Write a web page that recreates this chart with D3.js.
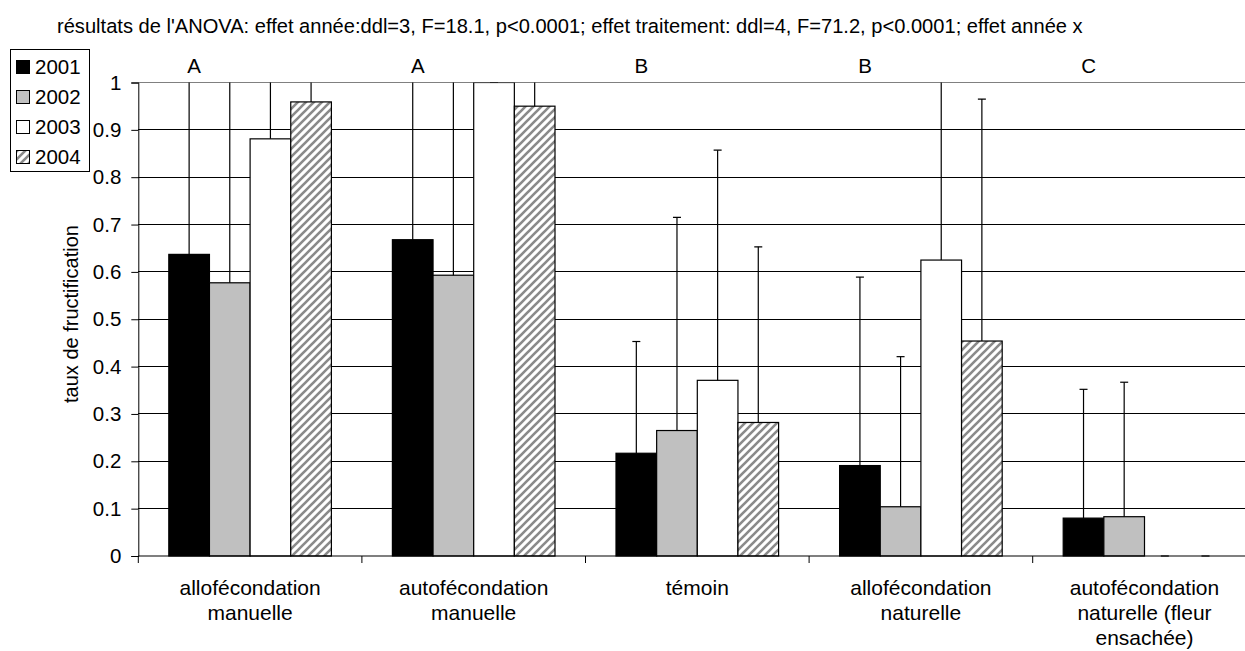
<!DOCTYPE html>
<html><head><meta charset="utf-8">
<script src="https://cdn.jsdelivr.net/npm/d3@7"></script>
<style>
html,body{margin:0;padding:0;background:#fff;overflow:hidden}
text{font-family:"Liberation Sans",Arial,sans-serif;fill:#000}
</style></head>
<body>
<svg id="chart" width="1245" height="651"></svg>
<script>
const titleText = "résultats de l'ANOVA: effet année:ddl=3, F=18.1, p<0.0001; effet traitement: ddl=4, F=71.2, p<0.0001; effet année x";
const yAxisTitle = "taux de fructification";
const categories = ["allofécondation manuelle","autofécondation manuelle","témoin","allofécondation naturelle","autofécondation naturelle (fleur ensachée)"];
const categoryLabelLines = [["allofécondation","manuelle"],["autofécondation","manuelle"],["témoin"],["allofécondation","naturelle"],["autofécondation","naturelle (fleur","ensachée)"]];
const groupLetters = ["A","A","B","B","C"];
const years = ["2001","2002","2003","2004"];
const values2001 = [0.637, 0.668, 0.217, 0.191, 0.080];
const values2002 = [0.577, 0.593, 0.265, 0.104, 0.083];
const values2003 = [0.881, 1.000, 0.371, 0.625, 0.000];
const values2004 = [0.959, 0.950, 0.282, 0.454, 0.000];
const errors2001 = [0.60, 0.60, 0.236, 0.398, 0.272];
const errors2002 = [0.60, 0.60, 0.450, 0.317, 0.284];
const errors2003 = [0.40, 0.00, 0.486, 0.500, 0.000];
const errors2004 = [0.30, 0.30, 0.371, 0.511, 0.000];
const yTicks = [0,0.1,0.2,0.3,0.4,0.5,0.6,0.7,0.8,0.9,1];

const seriesValues = [values2001, values2002, values2003, values2004];
const seriesErrors = [errors2001, errors2002, errors2003, errors2004];

(function(){
const svg = d3.select("#chart");
const pLeft = 138.3, pTop = 82.5, pBottom = 556, catW = 223.6;
const pRight = pLeft + catW * categories.length;

const defs = svg.append("defs");
const pat = defs.append("pattern").attr("id","hatch").attr("patternUnits","userSpaceOnUse")
  .attr("width",8).attr("height",8);
pat.append("rect").attr("width",8).attr("height",8).attr("fill","#fff");
pat.append("path").attr("d","M-2,2 L2,-2 M0,8 L8,0 M6,10 L10,6")
  .attr("stroke","#8a8a8a").attr("stroke-width",2.6);
defs.append("clipPath").attr("id","clip").append("rect")
  .attr("x",pLeft-10).attr("y",pTop).attr("width",pRight-pLeft+20).attr("height",pBottom-pTop+10);

const fills = ["#000000","#c0c0c0","#ffffff","url(#hatch)"];

const x0 = d3.scaleBand().domain(categories).range([pLeft,pRight]).padding(0);
const x1 = d3.scaleBand().domain(years).range([30.5, catW-30.5]).padding(0);
const y = d3.scaleLinear().domain([0,1]).range([pBottom, pTop]);

// gridlines
svg.append("g").selectAll("line").data(yTicks.filter(t=>t>0 && t<1)).join("line")
  .attr("x1",pLeft).attr("x2",pRight).attr("y1",d=>y(d)).attr("y2",d=>y(d))
  .attr("stroke","#000").attr("stroke-width",1).attr("shape-rendering","crispEdges");
// top border
svg.append("line").attr("x1",pLeft).attr("x2",pRight).attr("y1",y(1)).attr("y2",y(1))
  .attr("stroke","#808080").attr("stroke-width",1.2).attr("shape-rendering","crispEdges");

// y axis
const yAxis = d3.axisLeft(y).tickValues(yTicks).tickSize(7).tickPadding(10)
  .tickFormat(d=> d===0 ? "0" : d===1 ? "1" : d3.format(".1f")(d));
const gy = svg.append("g").attr("transform",`translate(${pLeft},0)`).call(yAxis);
gy.select(".domain").attr("stroke","#000");
gy.selectAll(".tick line").attr("stroke","#000");
gy.selectAll("text").style("font-size","20.5px").attr("fill","#000");

// bars
const plot = svg.append("g").attr("clip-path","url(#clip)");
categories.forEach((cat,ci)=>{
  years.forEach((yr,si)=>{
    const v = seriesValues[si][ci];
    const bx = x0(cat)+x1(yr), bw = x1.bandwidth();
    plot.append("rect").attr("x",bx).attr("y",y(v)).attr("width",bw).attr("height",Math.max(0,y(0)-y(v)))
      .attr("fill",fills[si]).attr("stroke","#000").attr("stroke-width",1.2);
  });
});
// error bars
categories.forEach((cat,ci)=>{
  years.forEach((yr,si)=>{
    const v = seriesValues[si][ci], e = seriesErrors[si][ci];
    const cx = x0(cat)+x1(yr)+x1.bandwidth()/2;
    plot.append("line").attr("x1",cx).attr("x2",cx).attr("y1",y(v)).attr("y2",y(v+e))
      .attr("stroke","#000").attr("stroke-width",1.2);
    plot.append("line").attr("x1",cx-4).attr("x2",cx+4).attr("y1",y(v+e)).attr("y2",y(v+e))
      .attr("stroke","#000").attr("stroke-width",1.2);
  });
});

// x axis
svg.append("line").attr("x1",pLeft).attr("x2",pRight).attr("y1",pBottom).attr("y2",pBottom)
  .attr("stroke","#000").attr("stroke-width",1.2);
const bounds = categories.map(c=>x0(c)).concat([pRight]);
svg.append("g").selectAll("line").data(bounds).join("line")
  .attr("x1",d=>d).attr("x2",d=>d).attr("y1",pBottom).attr("y2",pBottom+7)
  .attr("stroke","#000").attr("stroke-width",1);
categories.forEach((cat,ci)=>{
  const t = svg.append("text").attr("x",x0(cat)+catW/2).attr("y",595)
    .attr("text-anchor","middle").style("font-size","21px");
  categoryLabelLines[ci].forEach((ln,li)=>{
    t.append("tspan").attr("x",x0(cat)+catW/2).attr("dy",li===0?0:25).text(ln);
  });
  svg.append("text").attr("x",x0(cat)+catW*0.25).attr("y",73).attr("text-anchor","middle")
    .style("font-size","20.5px").text(groupLetters[ci]);
});

// title
svg.append("text").attr("x",57).attr("y",33).style("font-size","20.1px").text(titleText);
// y axis title
svg.append("text").attr("transform","translate(78,314) rotate(-90)").attr("text-anchor","middle")
  .style("font-size","20px").text(yAxisTitle);

// legend
const lg = svg.append("g");
lg.append("rect").attr("x",10.5).attr("y",49.5).attr("width",79).attr("height",122)
  .attr("fill","#fff").attr("stroke","#000").attr("stroke-width",1);
years.forEach((yr,i)=>{
  const cy = 67 + i*30;
  lg.append("rect").attr("x",16.5).attr("y",cy-6.5).attr("width",13).attr("height",13)
    .attr("fill",fills[i]).attr("stroke","#000").attr("stroke-width",1);
  lg.append("text").attr("x",35).attr("y",cy+7).style("font-size","20.5px").text(yr);
});
})();
</script>
</body></html>
